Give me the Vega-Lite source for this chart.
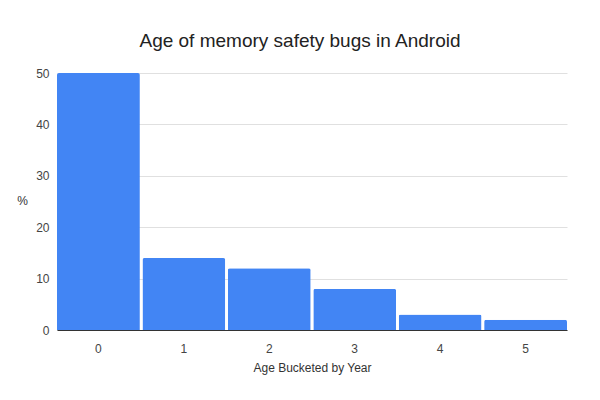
{
  "$schema": "https://vega.github.io/schema/vega-lite/v6.json",
  "autosize": "none",
  "width": 510,
  "height": 257,
  "padding": {"left": 57, "top": 73, "right": 33, "bottom": 70},
  "background": "white",
  "config": {
    "font": "Liberation Sans",
    "view": {"stroke": null}
  },
  "title": {
    "text": "Age of memory safety bugs in Android",
    "fontSize": 19,
    "fontWeight": "normal",
    "color": "#222222",
    "offset": 16,
    "dx": -12
  },
  "data": {
    "values": [
      {"age": "0", "pct": 50},
      {"age": "1", "pct": 14},
      {"age": "2", "pct": 12},
      {"age": "3", "pct": 8},
      {"age": "4", "pct": 3},
      {"age": "5", "pct": 2}
    ]
  },
  "mark": {
    "type": "bar",
    "color": "#4285F4",
    "cornerRadiusTopLeft": 2,
    "cornerRadiusTopRight": 2
  },
  "encoding": {
    "x": {
      "field": "age",
      "type": "ordinal",
      "scale": {"paddingInner": 0.03, "paddingOuter": 0},
      "axis": {
        "title": "Age Bucketed by Year",
        "titleFontSize": 12,
        "titleFontWeight": "normal",
        "titleColor": "#333333",
        "titlePadding": 8,
        "labelAngle": 0,
        "labelFontSize": 12,
        "labelColor": "#444444",
        "labelPadding": 13,
        "ticks": false,
        "domainColor": "#333333",
        "domainWidth": 1
      }
    },
    "y": {
      "field": "pct",
      "type": "quantitative",
      "scale": {"domain": [0, 50]},
      "axis": {
        "title": "%",
        "titleAngle": 0,
        "titleFontSize": 12,
        "titleFontWeight": "normal",
        "titleColor": "#333333",
        "titleX": -35,
        "titleY": 134,
        "values": [0, 10, 20, 30, 40, 50],
        "labelFontSize": 12,
        "labelColor": "#444444",
        "labelPadding": 8,
        "ticks": false,
        "domain": false,
        "gridColor": "#e0e0e0"
      }
    }
  }
}
